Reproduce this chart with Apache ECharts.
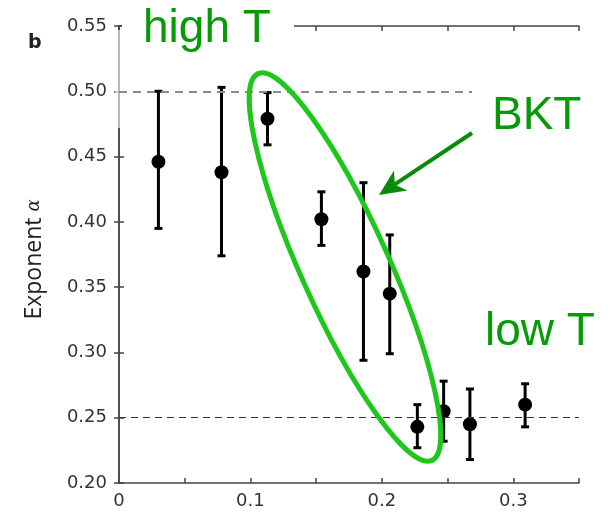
<!DOCTYPE html>
<html>
<head>
<meta charset="utf-8">
<script src="https://cdn.jsdelivr.net/npm/echarts@6/dist/echarts.min.js"></script>
<style>
  html, body { margin: 0; padding: 0; background: #fff; }
  #chart { width: 610px; height: 512px; }
</style>
</head>
<body>
<div id="chart"></div>
<script>
// Measured exponent alpha versus x, with error bar bounds
const xVals  = [0.030, 0.078, 0.113, 0.154, 0.186, 0.206, 0.227, 0.247, 0.267, 0.309];
const yVals  = [0.446, 0.438, 0.479, 0.402, 0.362, 0.345, 0.243, 0.255, 0.245, 0.260];
const yLow   = [0.395, 0.374, 0.459, 0.382, 0.294, 0.299, 0.227, 0.232, 0.218, 0.243];
const yHigh  = [0.500, 0.503, 0.499, 0.423, 0.430, 0.390, 0.260, 0.278, 0.272, 0.276];
// Reference levels drawn as dashed lines
const refLevels = [0.50, 0.25];
// Axis tick labels
const yTickLabels = ['0.20', '0.25', '0.30', '0.35', '0.40', '0.45', '0.50', '0.55'];
const xTickLabels = ['0', '0.1', '0.2', '0.3'];

const chart = echarts.init(document.getElementById('chart'), null, { renderer: 'canvas' });

const FONT = 'DejaVu Sans';
const axisColor = '#444';

const points = xVals.map((x, i) => [x, yVals[i]]);
const bars = xVals.map((x, i) => [x, yLow[i], yHigh[i]]);

function renderErrorBar(params, api) {
  const x = api.value(0);
  const lo = api.coord([x, api.value(1)]);
  const hi = api.coord([x, api.value(2)]);
  const cap = 4;
  const style = { stroke: '#000', lineWidth: 3 };
  return {
    type: 'group',
    children: [
      { type: 'line', shape: { x1: lo[0], y1: lo[1], x2: hi[0], y2: hi[1] }, style },
      { type: 'line', shape: { x1: hi[0] - cap, y1: hi[1], x2: hi[0] + cap, y2: hi[1] }, style },
      { type: 'line', shape: { x1: lo[0] - cap, y1: lo[1], x2: lo[0] + cap, y2: lo[1] }, style }
    ]
  };
}

// Arrow pointing at the BKT region
const arrowStart = [472, 133];
const arrowTip = [379, 195];
const dx = arrowTip[0] - arrowStart[0], dy = arrowTip[1] - arrowStart[1];
const len = Math.hypot(dx, dy);
const ux = dx / len, uy = dy / len, nx = -uy, ny = ux;
const headL = 26, headW = 12, notch = 7;
const headPts = [
  arrowTip,
  [arrowTip[0] - ux * headL + nx * headW, arrowTip[1] - uy * headL + ny * headW],
  [arrowTip[0] - ux * (headL - notch), arrowTip[1] - uy * (headL - notch)],
  [arrowTip[0] - ux * headL - nx * headW, arrowTip[1] - uy * headL - ny * headW]
];
const shaftEnd = [arrowTip[0] - ux * (headL - notch), arrowTip[1] - uy * (headL - notch)];

const labelGreen = '#079a07';
const ringGreen = '#1dc81a';
const arrowGreen = '#0a8a0a';

const option = {
  animation: false,
  backgroundColor: '#fff',
  grid: { left: 119, right: 31, top: 26, bottom: 29, containLabel: false },
  xAxis: [
    {
      type: 'value', min: 0, max: 0.35, interval: 0.05,
      axisLine: { lineStyle: { color: axisColor, width: 1.5 } },
      axisTick: { inside: true, length: 5, lineStyle: { color: axisColor, width: 1.5 } },
      splitLine: { show: false },
      axisLabel: {
        margin: 9, color: '#333', fontFamily: FONT, fontSize: 18,
        formatter: v => {
          const k = Math.round(v * 100);
          return k % 10 === 0 ? xTickLabels[k / 10] : '';
        }
      }
    },
    {
      type: 'value', position: 'top', min: 0, max: 0.35, interval: 0.05,
      axisLine: { lineStyle: { color: axisColor, width: 1.5 } },
      axisTick: { inside: true, length: 5, lineStyle: { color: axisColor, width: 1.5 } },
      axisLabel: { show: false }, splitLine: { show: false }
    }
  ],
  yAxis: [
    {
      type: 'value', min: 0.20, max: 0.55, interval: 0.05,
      axisLine: { lineStyle: { color: axisColor, width: 1.5 } },
      axisTick: { inside: true, length: 5, lineStyle: { color: axisColor, width: 1.5 } },
      splitLine: { show: false },
      axisLabel: {
        margin: 12, color: '#333', fontFamily: FONT, fontSize: 18,
        formatter: v => yTickLabels[Math.round((v - 0.20) / 0.05)]
      },
      name: 'Exponent {a|α}', nameLocation: 'middle', nameGap: 73, nameRotate: 90,
      nameTextStyle: {
        color: '#222', fontFamily: 'Open Sans', fontSize: 23,
        padding: [0, 10, 0, 0],
        rich: { a: { fontFamily: 'DejaVu Serif', fontStyle: 'italic', fontSize: 18, color: '#222' } }
      }
    },
    {
      type: 'value', position: 'right', min: 0.20, max: 0.55, interval: 0.05,
      axisLine: { lineStyle: { color: axisColor, width: 1.5 } },
      axisTick: { inside: true, length: 5, lineStyle: { color: axisColor, width: 1.5 } },
      axisLabel: { show: false }, splitLine: { show: false }
    }
  ],
  series: [
    {
      type: 'custom',
      renderItem: renderErrorBar,
      data: bars,
      encode: { x: 0, y: [1, 2] },
      z: 3,
      silent: true
    },
    {
      type: 'scatter',
      data: points,
      symbol: 'circle',
      symbolSize: 14,
      itemStyle: { color: '#000', opacity: 1 },
      z: 4,
      silent: true,
      markLine: {
        silent: true,
        symbol: 'none',
        label: { show: false },
        data: [
          { yAxis: refLevels[0], lineStyle: { color: '#8a8a8a', type: [8, 6], width: 1.8 } },
          { yAxis: refLevels[1], lineStyle: { color: '#333', type: [7, 5], width: 1.2 } }
        ]
      }
    }
  ],
  graphic: [
    // panel letter
    { type: 'text', left: 28, top: 34, z: 20,
      style: { text: 'b', font: 'bold 19px "DejaVu Sans"', fill: '#222' } },
    // white label panels
    { type: 'rect', z: 10, shape: { x: 122, y: 0, width: 172, height: 40 }, style: { fill: '#fff' } },
    { type: 'rect', z: 1, shape: { x: 115, y: 30, width: 8, height: 98 }, style: { fill: 'rgba(255,255,255,0.6)' } },
    { type: 'rect', z: 10, shape: { x: 472, y: 75, width: 138, height: 79 }, style: { fill: '#fff' } },
    { type: 'rect', z: 10, shape: { x: 465, y: 292, width: 145, height: 77 }, style: { fill: '#fff' } },
    // labels
    { type: 'text', z: 12, x: 143, y: 29,
      style: { text: 'high T', font: '46px "Liberation Sans"', fill: labelGreen, textVerticalAlign: 'middle' } },
    { type: 'text', z: 12, x: 492, y: 116,
      style: { text: 'BKT', font: '46px "Liberation Sans"', fill: labelGreen, textVerticalAlign: 'middle' } },
    { type: 'text', z: 12, x: 485, y: 332,
      style: { text: 'low T', font: '46px "Liberation Sans"', fill: labelGreen, textVerticalAlign: 'middle' } },
    // ring around the BKT points
    { type: 'ellipse', z: 6, x: 345, y: 267, rotation: -65.8 * Math.PI / 180,
      shape: { cx: 0, cy: 0, rx: 212, ry: 44 },
      style: { fill: 'none', stroke: ringGreen, lineWidth: 5 } },
    // arrow
    { type: 'line', z: 12, shape: { x1: arrowStart[0], y1: arrowStart[1], x2: shaftEnd[0], y2: shaftEnd[1] },
      style: { stroke: arrowGreen, lineWidth: 4 } },
    { type: 'polygon', z: 12, shape: { points: headPts }, style: { fill: arrowGreen } }
  ]
};

chart.setOption(option);
</script>
</body>
</html>
